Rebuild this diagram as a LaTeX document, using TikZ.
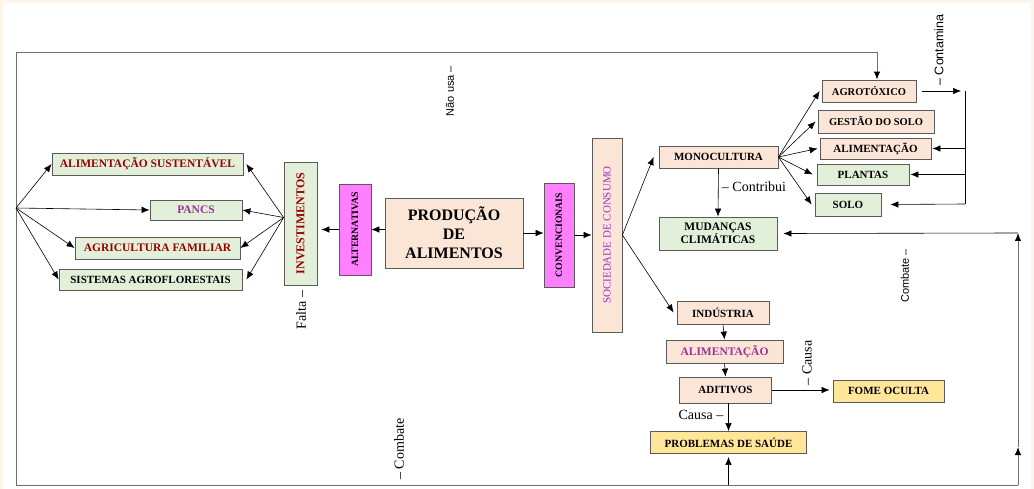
\documentclass[tikz,border=0pt]{standalone}
\usepackage{fontspec}
\setmainfont{Liberation Serif}
\newfontfamily\labsans{Liberation Sans}
\usetikzlibrary{arrows.meta}

\definecolor{cream}{HTML}{FDF5EA}
\definecolor{boxgreen}{HTML}{E2F0D9}
\definecolor{boxpeach}{HTML}{FBE5D6}
\definecolor{boxpink}{HTML}{FF80FF}
\definecolor{boxyellow}{HTML}{FFE699}
\definecolor{txtred}{HTML}{990000}
\definecolor{txtpurple}{HTML}{993399}
\definecolor{txtviolet}{HTML}{9933CC}
\definecolor{boxline}{HTML}{5A5A5A}
\definecolor{frameline}{HTML}{6E6E6E}

\begin{document}
\begin{tikzpicture}[x=1pt, y=-1pt, ->, >={Latex[length=8pt,width=6.5pt,black]}, line width=0.6pt,
    box/.style={draw=boxline, line width=0.8pt, inner sep=1pt, align=center, font=\bfseries\fontsize{11}{12}\selectfont},
    gbox/.style={box, fill=boxgreen},
    pbox/.style={box, fill=boxpeach},
    mbox/.style={box, fill=boxpink, font=\bfseries\fontsize{9.8}{11}\selectfont},
    ybox/.style={box, fill=boxyellow},
    bigtxt/.style={font=\bfseries\fontsize{11.5}{13}\selectfont},
    lbl/.style={font=\fontsize{14}{16}\selectfont, inner sep=1pt},
    lblsans/.style={font=\labsans\fontsize{11}{13}\selectfont, inner sep=1pt},
    frame/.style={draw=frameline, line width=1pt}]
      \useasboundingbox (0,0) rectangle (1034,489);
      \fill[-, cream] (0,0) rectangle (1034,489);
      \fill[-, white] (3,3) rectangle (1031,489);

      \node[gbox, bigtxt, text=txtred, minimum width=191pt, minimum height=22pt] (alsust) at (147.5,164) {ALIMENTAÇÃO SUSTENTÁVEL};
      \node[gbox, bigtxt, text=txtpurple, minimum width=92pt, minimum height=20pt] (pancs) at (196,210) {PANCS};
      \node[gbox, bigtxt, text=txtred, minimum width=165pt, minimum height=22pt] (agrfam) at (157.5,248) {AGRICULTURA FAMILIAR};
      \node[gbox, minimum width=183pt, minimum height=21pt] (saf) at (150.5,279.5) {SISTEMAS AGROFLORESTAIS};
      \node[gbox, rotate=90, text=txtred, font=\bfseries\fontsize{12}{14}\selectfont, minimum width=123pt, minimum height=33pt] (invest) at (300.5,223.5) {INVESTIMENTOS};
      \node[mbox, rotate=90, minimum width=91pt, minimum height=32pt] (altern) at (355,229.5) {ALTERNATIVAS};
      \node[pbox, font=\bfseries\fontsize{16}{19}\selectfont, minimum width=138pt, minimum height=70pt] (prod) at (454,233) {PRODUÇÃO\\DE\\ALIMENTOS};
      \node[mbox, rotate=90, minimum width=104pt, minimum height=30pt] (conv) at (559,235) {CONVENCIONAIS};
      \node[pbox, rotate=90, text=txtviolet, font=\fontsize{11}{13}\selectfont, minimum width=194pt, minimum height=30pt] (soc) at (607,235) {SOCIEDADE DE CONSUMO};

      \node[pbox, minimum width=119pt, minimum height=22pt] (mono) at (718.5,157) {MONOCULTURA};
      \node[gbox, font=\bfseries\fontsize{11.5}{12}\selectfont, minimum width=118pt, minimum height=33pt] (mud) at (718,233.5) {MUDANÇAS\\CLIMÁTICAS};
      \node[pbox, font=\bfseries\fontsize{10.5}{12}\selectfont, minimum width=94pt, minimum height=22pt] (agro) at (869,91) {AGROTÓXICO};
      \node[pbox, font=\bfseries\fontsize{10.5}{12}\selectfont, minimum width=116pt, minimum height=23pt] (gest) at (876,121.5) {GESTÃO DO SOLO};
      \node[pbox, minimum width=111pt, minimum height=21pt] (alim2) at (875.5,148.5) {ALIMENTAÇÃO};
      \node[gbox, minimum width=92pt, minimum height=21pt] (plant) at (863,174.5) {PLANTAS};
      \node[gbox, minimum width=66pt, minimum height=23pt] (solo) at (848,204.5) {SOLO};

      \node[pbox, minimum width=92pt, minimum height=23pt] (indus) at (723,312.5) {INDÚSTRIA};
      \node[pbox, bigtxt, text=txtpurple, minimum width=117pt, minimum height=23pt] (alim3) at (724.5,351.5) {ALIMENTAÇÃO};
      \node[pbox, minimum width=92pt, minimum height=26pt] (adit) at (725.5,390) {ADITIVOS};
      \node[ybox, minimum width=111pt, minimum height=22pt] (fome) at (888.5,391) {FOME OCULTA};
      \node[ybox, minimum width=156pt, minimum height=22pt] (prob) at (728.5,442.5) {PROBLEMAS DE SAÚDE};

      \coordinate (tl) at (16,53);
      \coordinate (bl) at (16,485);
      \coordinate (br) at (1018,485);
      \coordinate (rmid) at (1018,447);
      \coordinate (br2) at (1018,233);
      \coordinate (hub) at (16,208);
      \coordinate (ifan) at ([yshift=6pt]invest.north);
      \coordinate (cj) at (965,91);
      \coordinate (cb) at (965,204);

      \draw[frame] (bl) -- (tl) -| ([xshift=8pt]agro.north);
      \draw[frame, -] (bl) -- (br);
      \draw[frame] (br) -- (rmid);
      \draw[frame] (rmid) -- (br2);
      \draw (br2) -- ([xshift=6pt]mud.east);
      \draw (prob.south |- br) -- ([yshift=-3pt]prob.south);
      \draw[-] (cj) -- (cb);

        \path (hub) edge (alsust.west)
            (hub) edge (pancs.west)
            (hub) edge (agrfam.west)
            (hub) edge (saf.west)
            (ifan) edge ([xshift=3pt]alsust.east)
            (ifan) edge (pancs.east)
            (ifan) edge (agrfam.east)
            (ifan) edge ([xshift=4pt]saf.east)
            (prod.west |- altern) edge (altern.south)
            (altern.north) edge ([xshift=4pt]invest.south |- altern.north)
            (prod.east) edge (conv.north |- prod.east)
            (conv.south) edge (soc.north |- conv.south)
            (soc.south) edge ([xshift=-5pt]mono.west)
            (soc.south) edge ([xshift=-3pt]indus.west)
            (mono.east) edge ([xshift=-2pt]agro.west)
            (mono.east) edge ([xshift=-2pt]gest.west)
            (mono.east) edge ([xshift=-2pt]alim2.west)
            (mono.east) edge ([xshift=-4pt]plant.west)
            (mono.east) edge ([xshift=-3pt]solo.west)
            (mono.south) edge (mud.north)
            ([xshift=6pt]agro.east) edge ([xshift=-4pt]cj)
            (cj |- alim2.east) edge ([xshift=1pt]alim2.east)
            (cj |- plant.east) edge ([xshift=1pt]plant.east)
            (cb) edge ([xshift=9pt]solo.east)
            (indus.south) edge (alim3.north)
            (alim3.south) edge (adit.north)
            (prob.north |- adit.south) edge (prob.north)
            (adit.east) edge ([xshift=-3pt]fome.west |- adit.east)
              ;

      \node[lblsans, rotate=90] (naousa) at (450,91) {Não usa –};
      \node[lblsans, font=\labsans\fontsize{12.5}{14}\selectfont, rotate=90] (contam) at (939,50) {– Contamina};
      \node[lbl, rotate=90] (falta) at (301,310) {Falta –};
      \node[lbl, rotate=90] (combbot) at (399,449) {– Combate};
      \node[lblsans, rotate=90] (combdir) at (905,276) {Combate –};
      \node[lbl, rotate=90] (causadir) at (807,363) {– Causa};
      \node[lbl] (contrib) at (754,187) {– Contribui};
      \node[lbl] (causaesq) at (701,415) {Causa –};
    \end{tikzpicture}
\end{document}
